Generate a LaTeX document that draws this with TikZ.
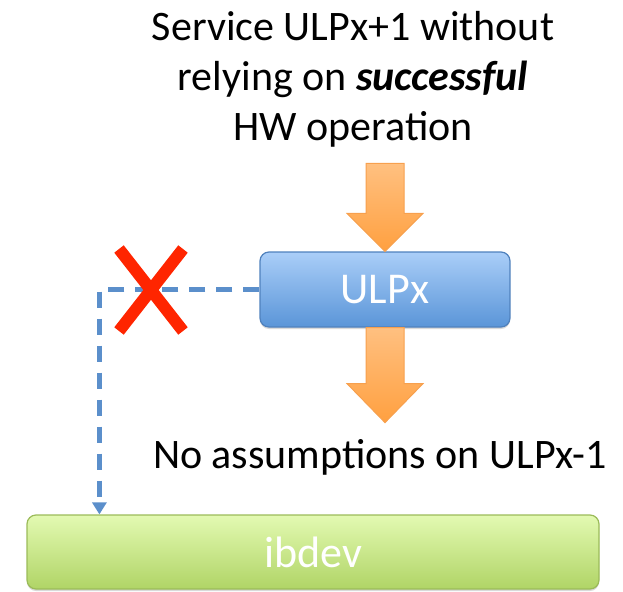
\documentclass[tikz,border=0pt]{standalone}
\usepackage{fontspec}
\setmainfont{Carlito}
\usetikzlibrary{calc, shapes.misc, shadows, arrows.meta}
\definecolor{ulptop}{HTML}{AACEF8}
\definecolor{ulpbot}{HTML}{5A95D8}
\definecolor{ulpline}{HTML}{4F81BD}
\definecolor{devtop}{HTML}{E3FAB2}
\definecolor{devbot}{HTML}{B0D466}
\definecolor{devline}{HTML}{9BBB59}
\definecolor{ortop}{HTML}{FFC080}
\definecolor{orbot}{HTML}{FFA040}
\definecolor{orline}{HTML}{F7A04E}
\definecolor{lnk}{HTML}{5B8FCB}
\definecolor{xred}{HTML}{FF2500}
\tikzstyle{box} = [rectangle, rounded corners=9pt, line width=1.2pt, text=white, inner sep=0pt, font=\fontsize{44}{50}\selectfont, drop shadow={shadow xshift=0pt, shadow yshift=-2pt, opacity=.3}]
\tikzstyle{ulp} = [box, draw=ulpline, top color=ulptop, bottom color=ulpbot, minimum width=250pt, minimum height=75pt]
\tikzstyle{dev} = [box, draw=devline, top color=devtop, bottom color=devbot, minimum width=572pt, minimum height=74pt]
\tikzstyle{txt} = [align=center, inner sep=0pt, font=\fontsize{42}{50}\selectfont]
\tikzstyle{fat} = [draw=orline, line width=1pt, top color=ortop, bottom color=orbot]
\tikzstyle{link} = [draw=lnk, line width=5pt, dash pattern=on 16pt off 11pt, -{Triangle[width=14pt,length=12pt]}]
\tikzstyle{nox} = [cross out, draw=xred, line width=12pt, minimum width=52pt, minimum height=70pt, inner sep=0pt]

\begin{document}
\begin{tikzpicture}[x=1pt, y=-1pt]
    \useasboundingbox (0,0) rectangle (623,591);

    \node[txt, anchor=base] (need) at (353,140) {Service ULPx+1 without\\relying on \textbf{\textit{successful}}\\HW operation};
    \node[ulp] (ulp) at (385,289.5) {ULPx};
    \node[txt, anchor=base] (note) at (380,468) {No assumptions on ULPx-1};
    \node[dev] (dev) at (313,552) {ibdev};

    % block arrows into and out of ULPx
    \path[fat] (ulp.north) -- ++(-38,-38) -- ++(19,0) -- ++(0,-50) -- ++(38,0)
        -- ++(0,50) -- ++(19,0) -- cycle;
    \path[fat] ($(ulp.south)+(-19,0)$) -- ++(0,56) -- ++(-19,0) -- ++(38,39)
        -- ++(38,-39) -- ++(-19,0) -- ++(0,-56) -- cycle;

    \draw[link] (ulp.west) -| ($(dev.north west)+(73,0)$);
    \node[nox] (cut) at (151,290) {};
\end{tikzpicture}
\end{document}
